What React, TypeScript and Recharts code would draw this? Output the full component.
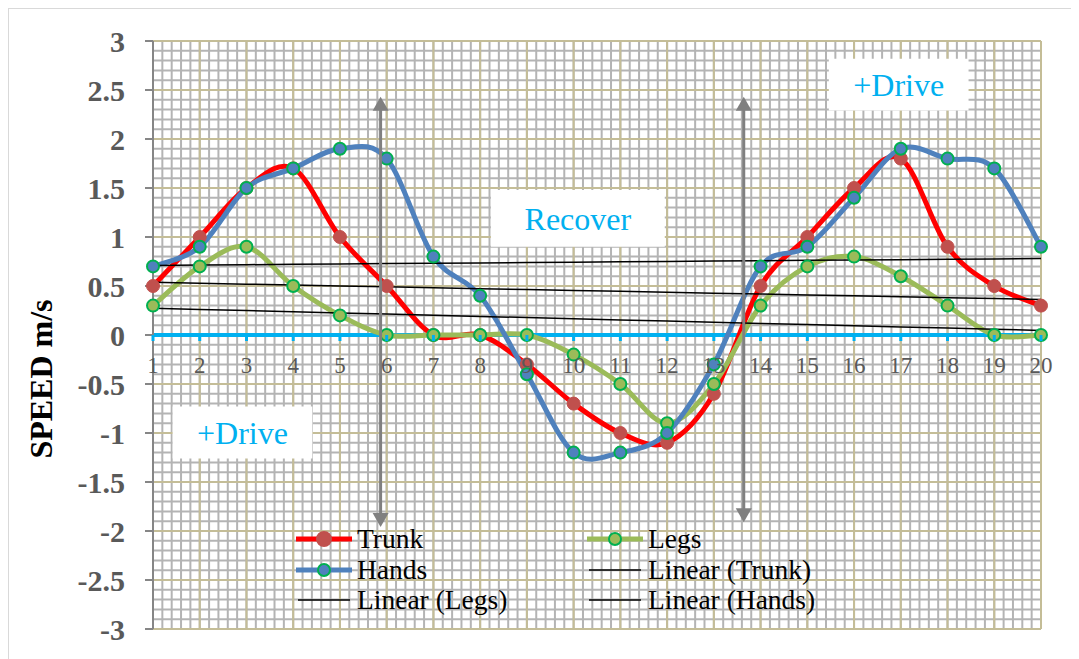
import {
  CartesianGrid,
  Label,
  Legend,
  Line,
  LineChart,
  ReferenceArea,
  ReferenceLine,
  XAxis,
  YAxis,
} from "recharts";

// sample index along the stroke cycle
const X_VALUES = [1, 2, 3, 4, 5, 6, 7, 8, 9, 10, 11, 12, 13, 14, 15, 16, 17, 18, 19, 20];

// speeds in m/s
const TRUNK = [0.5, 1.0, 1.5, 1.7, 1.0, 0.5, 0, 0, -0.3, -0.7, -1.0, -1.1, -0.6, 0.5, 1.0, 1.5, 1.8, 0.9, 0.5, 0.3];
const LEGS = [0.3, 0.7, 0.9, 0.5, 0.2, 0, 0, 0, 0, -0.2, -0.5, -0.9, -0.5, 0.3, 0.7, 0.8, 0.6, 0.3, 0, 0];
const HANDS = [0.7, 0.9, 1.5, 1.7, 1.9, 1.8, 0.8, 0.4, -0.4, -1.2, -1.2, -1.0, -0.3, 0.7, 0.9, 1.4, 1.9, 1.8, 1.7, 0.9];

const Y_TICKS = [-3, -2.5, -2, -1.5, -1, -0.5, 0, 0.5, 1, 1.5, 2, 2.5, 3];

// legend reads row by row, two columns
const LEGEND_ORDER = ["trunk", "legs", "hands", "trunkFit", "legsFit", "handsFit"];

const SERIF = "'Liberation Serif', 'Times New Roman', serif";

// chart geometry
const WIDTH = 1070;
const HEIGHT = 650;
const TOP = 32;
const X_AXIS_H = 30;
const PLOT_H = HEIGHT - TOP - X_AXIS_H;
const ZERO_Y = TOP + PLOT_H / 2;

// least squares trend, like Excel's "Linear" trendline
const linearFit = (ys: number[]) => {
  const n = ys.length;
  const mx = X_VALUES.reduce((s, v) => s + v, 0) / n;
  const my = ys.reduce((s, v) => s + v, 0) / n;
  let num = 0;
  let den = 0;
  X_VALUES.forEach((x, i) => {
    num += (x - mx) * (ys[i] - my);
    den += (x - mx) * (x - mx);
  });
  const b = num / den;
  return X_VALUES.map((x) => my + b * (x - mx));
};

const TRUNK_FIT = linearFit(TRUNK);
const LEGS_FIT = linearFit(LEGS);
const HANDS_FIT = linearFit(HANDS);

const data = X_VALUES.map((x, i) => ({
  x,
  trunk: TRUNK[i],
  legs: LEGS[i],
  hands: HANDS[i],
  trunkFit: TRUNK_FIT[i],
  legsFit: LEGS_FIT[i],
  handsFit: HANDS_FIT[i],
}));

// minor grid: 0.1 m/s and 0.2 of a step
const MINOR_Y: number[] = [];
for (let i = -30; i <= 30; i++) MINOR_Y.push(i / 10);
const MINOR_X: number[] = [];
for (let i = 5; i <= 100; i++) MINOR_X.push(i / 5);

const STYLES: Record<string, { stroke: string; width: number; fill?: string; ring?: string }> = {
  trunk: { stroke: "#ff0000", width: 5, fill: "#c0504d", ring: "#c0504d" },
  legs: { stroke: "#9bbb59", width: 5, fill: "#9bbb59", ring: "#00b050" },
  hands: { stroke: "#4f81bd", width: 5, fill: "#4f81bd", ring: "#00b050" },
  trunkFit: { stroke: "#000000", width: 1.5 },
  legsFit: { stroke: "#000000", width: 1.5 },
  handsFit: { stroke: "#000000", width: 1.5 },
};

// Excel style smoothed line (uniform Catmull-Rom through the points)
const excelSmooth = (context: any) => {
  let pts: number[][] = [];
  return {
    areaStart() {},
    areaEnd() {},
    lineStart() {
      pts = [];
    },
    point(x: number, y: number) {
      pts.push([+x, +y]);
    },
    lineEnd() {
      const n = pts.length;
      if (!n) return;
      context.moveTo(pts[0][0], pts[0][1]);
      for (let i = 0; i < n - 1; i++) {
        const p0 = pts[Math.max(i - 1, 0)];
        const p1 = pts[i];
        const p2 = pts[i + 1];
        const p3 = pts[Math.min(i + 2, n - 1)];
        context.bezierCurveTo(
          p1[0] + (p2[0] - p0[0]) / 6,
          p1[1] + (p2[1] - p0[1]) / 6,
          p2[0] - (p3[0] - p1[0]) / 6,
          p2[1] - (p3[1] - p1[1]) / 6,
          p2[0],
          p2[1]
        );
      }
    },
  };
};

const ZeroTick = ({ x, payload }: any) => (
  <g>
    <line x1={x} x2={x} y1={ZERO_Y} y2={ZERO_Y + 6} stroke="#00b0f0" strokeWidth={3} />
    <text x={x} y={ZERO_Y + 38} textAnchor="middle" fill="#595959" fontSize={23} fontFamily={SERIF}>
      {payload.value}
    </text>
  </g>
);

const DoubleArrow = (props: any) => {
  const { x1, y1, y2 } = props;
  const top = Math.min(y1, y2);
  const bot = Math.max(y1, y2);
  const h = 14;
  const w = 8;
  return (
    <g>
      <line x1={x1} x2={x1} y1={top + h - 1} y2={bot - h + 1} stroke="#808080" strokeWidth={3} />
      <polygon points={`${x1},${top} ${x1 - w},${top + h} ${x1 + w},${top + h}`} fill="#808080" />
      <polygon points={`${x1},${bot} ${x1 - w},${bot - h} ${x1 + w},${bot - h}`} fill="#808080" />
    </g>
  );
};

const renderLegend = ({ payload }: any) => {
  const items = [...(payload || [])].sort(
    (a: any, b: any) => LEGEND_ORDER.indexOf(a.dataKey) - LEGEND_ORDER.indexOf(b.dataKey)
  );
  return (
    <div
      style={{
        display: "grid",
        gridTemplateColumns: "291px 260px",
        gridAutoRows: "30.5px",
        fontFamily: SERIF,
        fontSize: 27.5,
        color: "#000",
      }}
    >
      {items.map((entry: any) => {
        const s = STYLES[entry.dataKey as string];
        return (
          <div key={entry.value} style={{ display: "flex", alignItems: "center", whiteSpace: "nowrap" }}>
            <svg width={56} height={20}>
              <line
                x1={s.fill ? 0 : 2}
                x2={s.fill ? 56 : 54}
                y1={10}
                y2={10}
                stroke={s.stroke}
                strokeWidth={s.width}
                strokeLinecap={s.fill ? "round" : "butt"}
              />
              {s.fill && (
                <circle cx={28} cy={10} r={s.ring === s.fill ? 7 : 6} fill={s.fill} stroke={s.ring} strokeWidth={2} />
              )}
            </svg>
            <span style={{ marginLeft: 5, lineHeight: "30px" }}>{entry.value}</span>
          </div>
        );
      })}
    </div>
  );
};

const seriesLine = (key: string, name: string, z: number) => {
  const s = STYLES[key];
  return (
    <Line
      key={key}
      dataKey={key}
      name={name}
      type={excelSmooth as any}
      stroke={s.stroke}
      strokeWidth={s.width}
      dot={{ r: s.ring === s.fill ? 6.5 : 6, fill: s.fill, stroke: s.ring, strokeWidth: s.ring === s.fill ? 1 : 2 }}
      activeDot={false}
      isAnimationActive={false}
      zIndex={z}
    />
  );
};

const fitLine = (key: string, name: string) => (
  <Line
    key={key}
    dataKey={key}
    name={name}
    type="linear"
    stroke="#000000"
    strokeWidth={1.5}
    dot={false}
    activeDot={false}
    isAnimationActive={false}
    zIndex={440}
  />
);

const boxLabel = (text: string) => (
  <Label value={text} position="center" fill="#00b0f0" fontSize={32} fontFamily={SERIF} />
);

export default function App() {
  return (
    <div
      style={{
        width: WIDTH + 1,
        height: HEIGHT + 1,
        borderTop: "1px solid #d9d9d9",
        borderLeft: "1px solid #d9d9d9",
        boxSizing: "border-box",
        background: "#fff",
      }}
    >
      <LineChart
        width={WIDTH}
        height={HEIGHT}
        data={data}
        margin={{ top: TOP, right: 38, bottom: 0, left: 0 }}
        style={{ fontFamily: SERIF }}
      >
        <CartesianGrid stroke="#b4b4b4" strokeWidth={2} horizontalValues={MINOR_Y} verticalValues={MINOR_X} />
        <CartesianGrid stroke="#c4bd97" strokeWidth={2} horizontalValues={Y_TICKS} verticalValues={X_VALUES} />
        <XAxis
          dataKey="x"
          type="number"
          domain={[1, 20]}
          ticks={X_VALUES}
          interval={0}
          axisLine={false}
          tickLine={false}
          height={X_AXIS_H}
          tick={ZeroTick}
        />
        <YAxis
          type="number"
          domain={[-3, 3]}
          ticks={Y_TICKS}
          interval={0}
          allowDataOverflow
          width={144}
          tickSize={8}
          tickMargin={20}
          axisLine={{ stroke: "#868686", strokeWidth: 2 }}
          tickLine={{ stroke: "#868686", strokeWidth: 2 }}
          tick={{ fill: "#595959", fontSize: 30, fontWeight: "bold", fontFamily: SERIF }}
        >
          <Label
            content={() => (
              <text
                x={32}
                y={370}
                transform="rotate(-90 32 370)"
                textAnchor="middle"
                dominantBaseline="central"
                fontFamily={SERIF}
                fontWeight="bold"
                fontSize={32}
                fill="#000"
              >
                SPEED m/s
              </text>
            )}
          />
        </YAxis>
        <ReferenceLine y={0} stroke="#00b0f0" strokeWidth={4} zIndex={300} />
        {seriesLine("trunk", "Trunk", 410)}
        {seriesLine("legs", "Legs", 420)}
        {seriesLine("hands", "Hands", 430)}
        {fitLine("trunkFit", "Linear (Trunk)")}
        {fitLine("legsFit", "Linear (Legs)")}
        {fitLine("handsFit", "Linear (Hands)")}
        <ReferenceArea x1={8.23} x2={11.95} y1={0.9} y2={1.48} fill="#ffffff" fillOpacity={1} stroke="none" zIndex={1500}>
          {boxLabel("Recover")}
        </ReferenceArea>
        <ReferenceArea x1={15.46} x2={18.45} y1={2.29} y2={2.82} fill="#ffffff" fillOpacity={1} stroke="none" zIndex={1500}>
          {boxLabel("+Drive")}
        </ReferenceArea>
        <ReferenceArea x1={1.42} x2={4.41} y1={-1.26} y2={-0.73} fill="#ffffff" fillOpacity={1} stroke="none" zIndex={1500}>
          {boxLabel("+Drive")}
        </ReferenceArea>
        <ReferenceLine
          segment={[
            { x: 5.87, y: 2.43 },
            { x: 5.87, y: -1.96 },
          ]}
          shape={DoubleArrow}
          zIndex={1500}
        />
        <ReferenceLine
          segment={[
            { x: 13.64, y: 2.43 },
            { x: 13.64, y: -1.91 },
          ]}
          shape={DoubleArrow}
          zIndex={1500}
        />
        <Legend
          layout="horizontal"
          verticalAlign="middle"
          align="center"
          itemSorter={null as any}
          content={renderLegend}
          wrapperStyle={{ left: 287, top: 515, width: 560, height: 92 }}
        />
      </LineChart>
    </div>
  );
}
